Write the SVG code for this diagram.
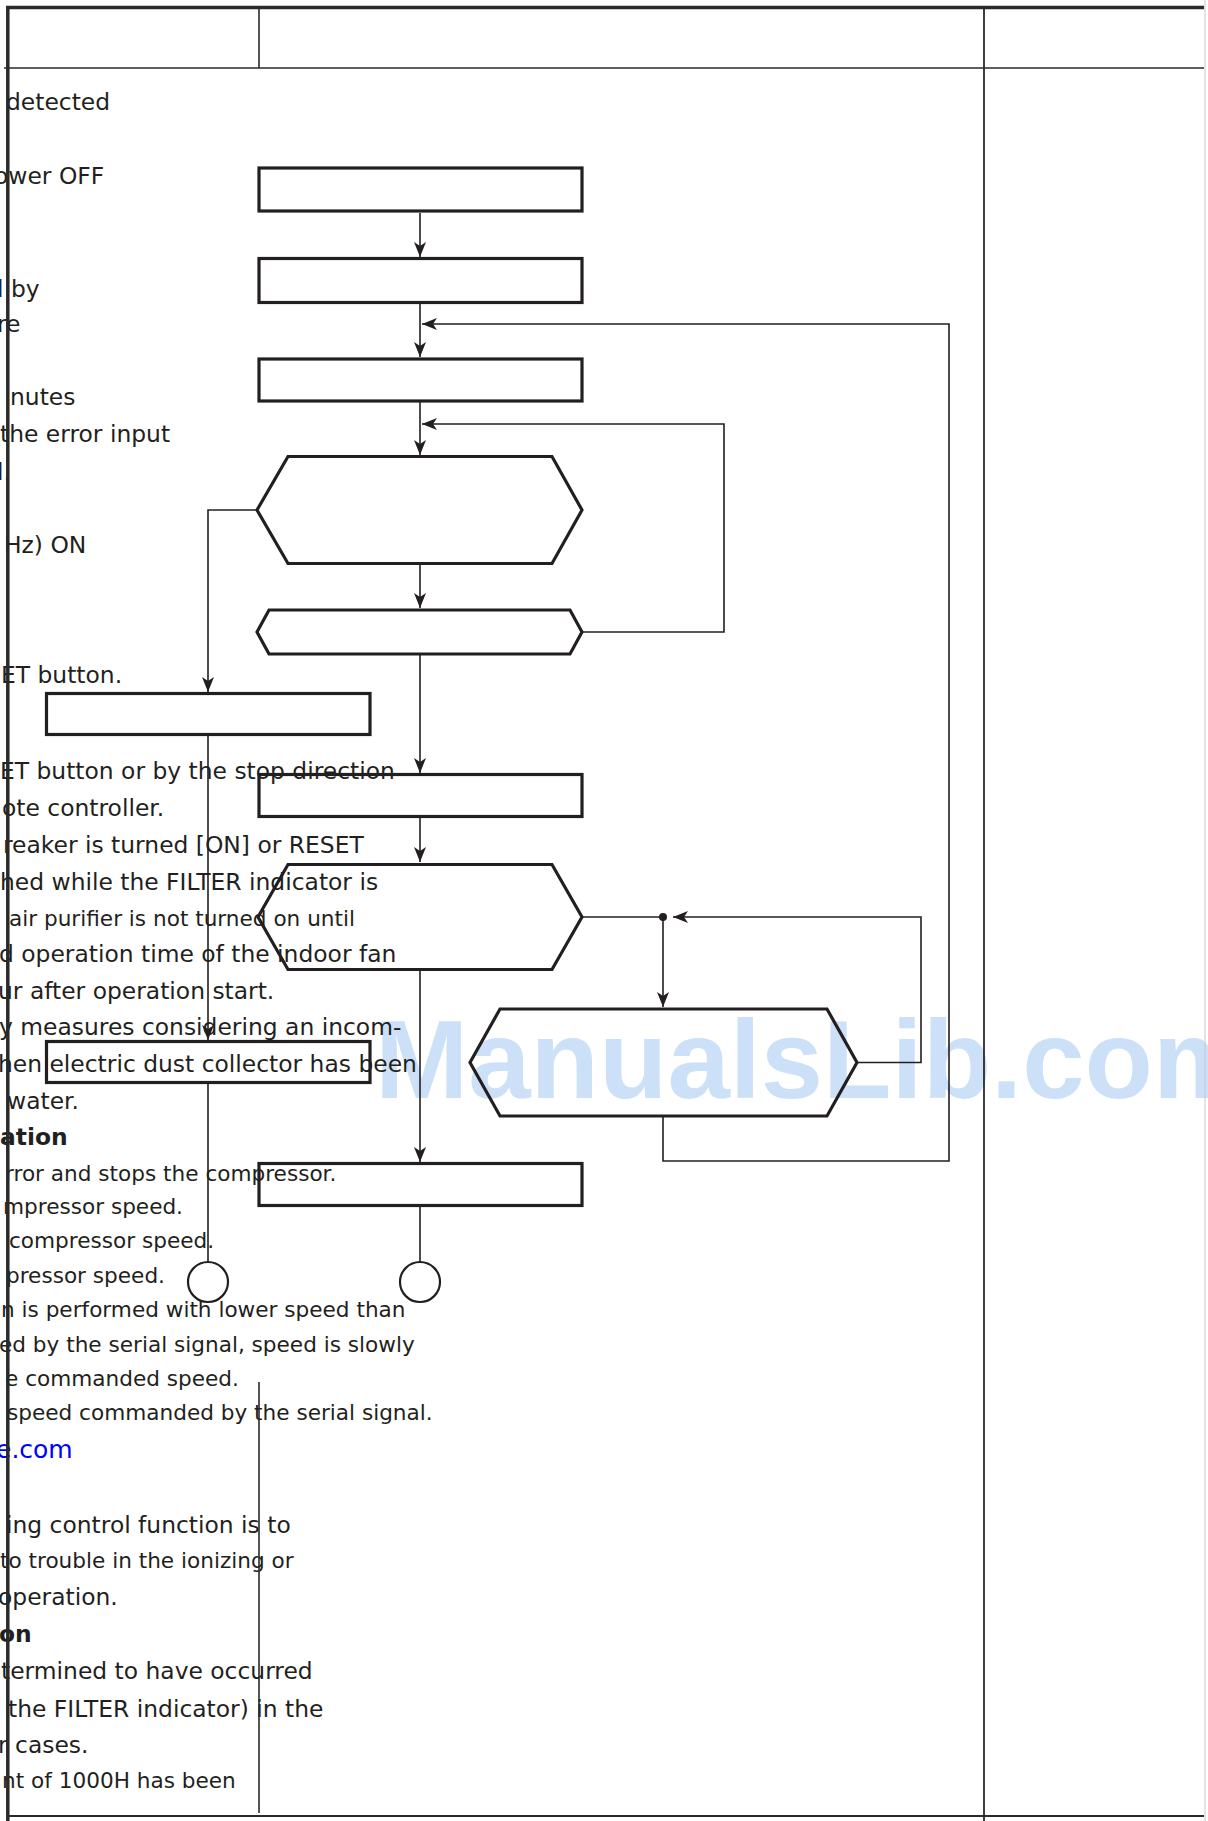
<svg xmlns="http://www.w3.org/2000/svg" width="1208" height="1821" viewBox="0 0 1208 1821">
<defs>
<style>
.t{font-family:"DejaVu Sans",sans-serif;font-size:23.4px;fill:#231f20}
.s{font-size:21.6px}
.b{font-weight:bold}
.lnk{font-size:25px;fill:#0000ff}
.wm{font-family:"Liberation Sans",Arial,sans-serif;font-weight:bold;font-size:112px;fill:#cce0f8}
.fr{stroke:#2a2a2a;fill:none;stroke-width:1.6}
.node{fill:none;stroke:#231f20;stroke-width:3.2}
.circ{fill:none;stroke:#231f20;stroke-width:2.2}
.c{fill:none;stroke:#231f20;stroke-width:1.6}
</style>
<marker id="arr" markerUnits="userSpaceOnUse" markerWidth="16" markerHeight="12" viewBox="0 0 16 12" refX="15" refY="6" orient="auto">
<path d="M0,0 L15,6 L0,12 L4,6 Z" fill="#231f20"/>
</marker>
</defs>
<rect width="1208" height="1821" fill="#ffffff"/>
<text class="wm" x="375" y="1098">ManualsLib.com</text>

<g id="column-text">
<text class="t" x="6" y="110">detected</text>
<text class="t" x="-6" y="184">ower OFF</text>
<text class="t" x="-3" y="297">l by</text>
<text class="t" x="-3" y="332">re</text>
<text class="t" x="10" y="405">nutes</text>
<text class="t" x="0" y="442">the error input</text>
<text class="t" x="-3" y="480">l.</text>
<text class="t" x="4" y="553">Hz) ON</text>
<text class="t" x="1" y="683">ET button.</text>
<text class="t" x="0" y="779">ET button or by the stop direction</text>
<text class="t" x="2" y="816">ote controller.</text>
<text class="t" x="3" y="853">reaker is turned [ON] or RESET</text>
<text class="t" x="0" y="890">hed while the FILTER indicator is</text>
<text class="t s" x="9" y="926">air purifier is not turned on until</text>
<text class="t" x="-1" y="962">d operation time of the indoor fan</text>
<text class="t" x="-2" y="999">ur after operation start.</text>
<text class="t" x="-1" y="1035">y measures considering an incom-</text>
<text class="t" x="-2" y="1072">hen electric dust collector has been</text>
<text class="t" x="7" y="1109">water.</text>
<text class="t b" x="0" y="1145">ation</text>
<text class="t s" x="5" y="1181">rror and stops the compressor.</text>
<text class="t s" x="3" y="1214">mpressor speed.</text>
<text class="t s" x="9" y="1248">compressor speed.</text>
<text class="t s" x="6" y="1283">pressor speed.</text>
<text class="t s" x="1" y="1317">n is performed with lower speed than</text>
<text class="t s" x="-1" y="1352">ed by the serial signal, speed is slowly</text>
<text class="t s" x="5" y="1386">e commanded speed.</text>
<text class="t s" x="7" y="1420">speed commanded by the serial signal.</text>
<text class="t lnk" x="-4" y="1458">e.com</text>
<text class="t" x="6" y="1533">ing control function is to</text>
<text class="t s" x="0" y="1568">to trouble in the ionizing or</text>
<text class="t" x="-2" y="1605">operation.</text>
<text class="t b" x="-1" y="1642">on</text>
<text class="t" x="1" y="1679">termined to have occurred</text>
<text class="t" x="8" y="1717">the FILTER indicator) in the</text>
<text class="t" x="-2" y="1753">r cases.</text>
<text class="t s" x="2" y="1788">nt of 1000H has been</text>
</g>

<g id="table-frame">
<line class="fr" x1="6" y1="7.5" x2="1204" y2="7.5" style="stroke-width:3.5"/>
<line class="fr" x1="7.8" y1="6" x2="7.8" y2="1821" style="stroke-width:3.5"/>
<line class="fr" x1="4" y1="68" x2="1204" y2="68"/>
<line class="fr" x1="259" y1="7" x2="259" y2="68"/>
<line class="fr" x1="984" y1="7" x2="984" y2="1821" style="stroke-width:1.8"/>
<line x1="1205" y1="0" x2="1205" y2="1821" stroke="#c8c8c8" stroke-width="1"/>
<line class="fr" x1="8" y1="1816" x2="1204" y2="1816" style="stroke-width:2"/>
<line class="fr" x1="259" y1="1382" x2="259" y2="1813"/>
</g>

<g id="connectors">
<path class="c" d="M420,213 V257" marker-end="url(#arr)"/>
<path class="c" d="M420,304 V357" marker-end="url(#arr)"/>
<path class="c" d="M420,402 V455" marker-end="url(#arr)"/>
<path class="c" d="M420,565 V608" marker-end="url(#arr)"/>
<path class="c" d="M420,655 V773" marker-end="url(#arr)"/>
<path class="c" d="M420,818 V862" marker-end="url(#arr)"/>
<path class="c" d="M420,971 V1162" marker-end="url(#arr)"/>
<path class="c" d="M420,1207 V1262"/>
<path class="c" d="M257,510 H208 V692" marker-end="url(#arr)"/>
<path class="c" d="M208,736 V1040" marker-end="url(#arr)"/>
<path class="c" d="M208,1084 V1262"/>
<path class="c" d="M582,632 H724 V424 H422" marker-end="url(#arr)"/>
<path class="c" d="M663,1117 V1161 H949 V324 H422" marker-end="url(#arr)"/>
<path class="c" d="M582,917 H663"/>
<circle cx="663" cy="917" r="4" fill="#231f20"/>
<path class="c" d="M663,917 V1007" marker-end="url(#arr)"/>
<path class="c" d="M857,1062.5 H921 V917 H673" marker-end="url(#arr)"/>
</g>

<g id="box1"><rect class="node" x="259" y="168" width="323" height="43"/></g>
<g id="box2"><rect class="node" x="259" y="258.5" width="323" height="44"/></g>
<g id="box3"><rect class="node" x="259" y="359" width="323" height="42"/></g>
<g id="hex1"><polygon class="node" points="257,510 288,456.5 552,456.5 582,510 552,563.5 288,563.5"/></g>
<g id="hex2"><polygon class="node" points="257,632 269,610 570,610 582,632 570,654 269,654"/></g>
<g id="box4"><rect class="node" x="46.5" y="693.5" width="323.5" height="41"/></g>
<g id="box5"><rect class="node" x="259" y="774.5" width="323" height="42"/></g>
<g id="hex3"><polygon class="node" points="258,917 288,864.5 552,864.5 582,917 552,969.5 288,969.5"/></g>
<g id="box6"><rect class="node" x="46.5" y="1041.5" width="323.5" height="41"/></g>
<g id="hex4"><polygon class="node" points="470,1062.5 500,1009 827,1009 857,1062.5 827,1116 500,1116"/></g>
<g id="box7"><rect class="node" x="259" y="1163.5" width="323" height="42"/></g>
<g id="end-left"><circle class="circ" cx="208" cy="1282" r="20"/></g>
<g id="end-right"><circle class="circ" cx="420" cy="1282" r="20"/></g>
</svg>
